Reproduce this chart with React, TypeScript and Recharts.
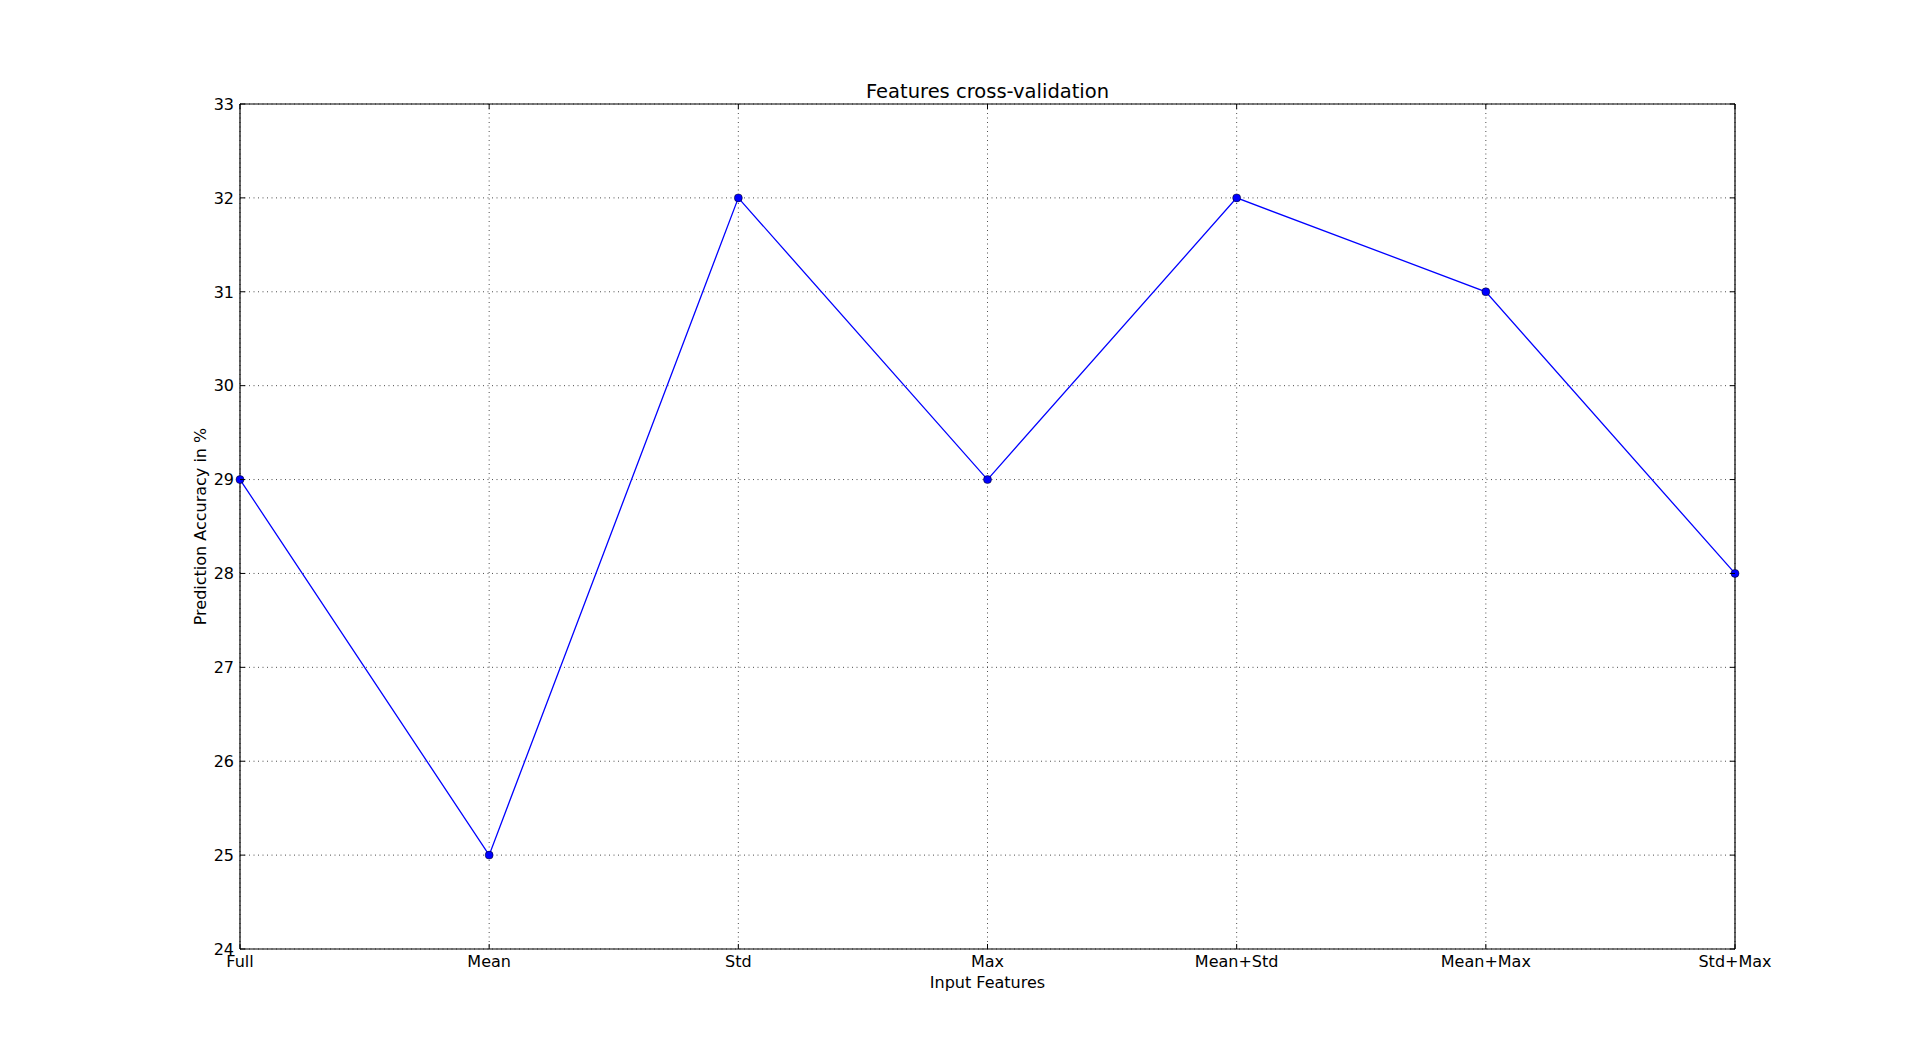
import React from 'react';
import { LineChart, Line, XAxis, YAxis, CartesianGrid } from 'recharts';

const categories = ['Full', 'Mean', 'Std', 'Max', 'Mean+Std', 'Mean+Max', 'Std+Max'];
const accuracy = [29, 25, 32, 29, 32, 31, 28];
const yTicks = [24, 25, 26, 27, 28, 29, 30, 31, 32, 33];
const title = 'Features cross-validation';
const xTitle = 'Input Features';
const yTitle = 'Prediction Accuracy in %';

const data = categories.map((c, i) => ({ name: c, value: accuracy[i] }));

const FONT = 'DejaVu Sans, sans-serif';
const TICK_LEN = 5;
const MARGIN = 6;

const LeftTick = (props: any) => {
  const { x, y, payload } = props;
  const ax = x + MARGIN;
  return (
    <g>
      <line x1={ax} x2={ax + TICK_LEN} y1={y} y2={y} stroke="#000" strokeWidth={1} />
      <text x={x} y={y} dy="0.36em" textAnchor="end" fontFamily={FONT} fontSize={16} fill="#000">
        {payload.value}
      </text>
    </g>
  );
};

const RightTick = (props: any) => {
  const { x, y } = props;
  const ax = x - MARGIN;
  return <line x1={ax} x2={ax - TICK_LEN} y1={y} y2={y} stroke="#000" strokeWidth={1} />;
};

const BottomTick = (props: any) => {
  const { x, y, payload } = props;
  const ay = y - MARGIN;
  return (
    <g>
      <line x1={x} x2={x} y1={ay} y2={ay - TICK_LEN} stroke="#000" strokeWidth={1} />
      <text x={x} y={ay + 18} textAnchor="middle" fontFamily={FONT} fontSize={16} fill="#000">
        {payload.value}
      </text>
    </g>
  );
};

const TopTick = (props: any) => {
  const { x, y } = props;
  const ay = y + MARGIN;
  return <line x1={x} x2={x} y1={ay} y2={ay + TICK_LEN} stroke="#000" strokeWidth={1} />;
};

export default function App() {
  return (
    <div style={{ position: 'absolute', left: 0, top: 0, width: 1928, height: 1056, background: '#fff' }}>
      <LineChart
        width={1928}
        height={1056}
        data={data}
        margin={{ top: 103, right: 192, bottom: 77, left: 180 }}
      >
        <CartesianGrid stroke="#000" strokeWidth={0.7} strokeDasharray="1 3.5" xAxisId={0} yAxisId={0} />
        <XAxis
          dataKey="name"
          xAxisId={0}
          height={30}
          interval={0}
          padding={{ left: 0, right: 0 }}
          axisLine={{ stroke: '#000', strokeWidth: 1.2 }}
          tickLine={false}
          tickSize={0}
          tickMargin={MARGIN}
          tick={<BottomTick />}
          label={{
            content: (p: any) => {
              const vb = p.viewBox;
              const cx = vb.x + vb.width / 2;
              return (
                <g>
                  <text x={cx} y={988} textAnchor="middle" fontFamily={FONT} fontSize={16} fill="#000">
                    {xTitle}
                  </text>
                  <text x={cx} y={98} textAnchor="middle" fontFamily={FONT} fontSize={19.5} fill="#000">
                    {title}
                  </text>
                </g>
              );
            },
          }}
        />
        <XAxis
          dataKey="name"
          xAxisId="top"
          orientation="top"
          height={1}
          interval={0}
          padding={{ left: 0, right: 0 }}
          axisLine={{ stroke: '#000', strokeWidth: 1.2 }}
          tickLine={false}
          tickSize={0}
          tickMargin={MARGIN}
          tick={<TopTick />}
        />
        <YAxis
          yAxisId={0}
          width={60}
          domain={[24, 33]}
          ticks={yTicks}
          interval={0}
          axisLine={{ stroke: '#000', strokeWidth: 1.2 }}
          tickLine={false}
          tickSize={0}
          tickMargin={MARGIN}
          tick={<LeftTick />}
          label={{
            content: (p: any) => {
              const vb = p.viewBox;
              const cx = 206;
              const cy = vb.y + vb.height / 2;
              return (
                <text
                  x={cx}
                  y={cy}
                  transform={`rotate(-90, ${cx}, ${cy})`}
                  textAnchor="middle"
                  fontFamily={FONT}
                  fontSize={16}
                  fill="#000"
                >
                  {yTitle}
                </text>
              );
            },
          }}
        />
        <YAxis
          yAxisId="right"
          orientation="right"
          width={1}
          domain={[24, 33]}
          ticks={yTicks}
          interval={0}
          axisLine={{ stroke: '#000', strokeWidth: 1.2 }}
          tickLine={false}
          tickSize={0}
          tickMargin={MARGIN}
          tick={<RightTick />}
        />
        <Line
          type="linear"
          dataKey="value"
          xAxisId="top"
          yAxisId="right"
          stroke="none"
          dot={false}
          activeDot={false}
          legendType="none"
          isAnimationActive={false}
        />
        <Line
          type="linear"
          dataKey="value"
          xAxisId={0}
          yAxisId={0}
          stroke="#0000ff"
          strokeWidth={1.3}
          dot={{ r: 4, fill: '#0000ff', stroke: '#000', strokeWidth: 0.5 }}
          activeDot={false}
          isAnimationActive={false}
        />
      </LineChart>
    </div>
  );
}
